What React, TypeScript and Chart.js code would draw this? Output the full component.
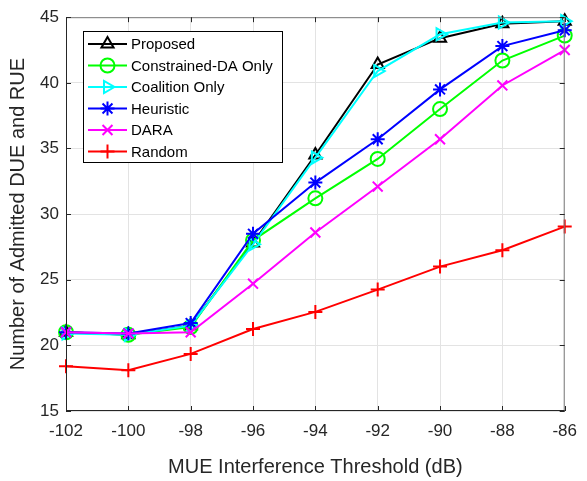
import { useEffect, useRef } from "react";
import { Chart, registerables } from "chart.js";
import { drawPoint } from "chart.js/helpers";

Chart.register(...registerables);

const thresholds = [-102, -100, -98, -96, -94, -92, -90, -88, -86];
const proposed = [21.0, 20.8, 21.5, 27.8, 34.5, 41.4, 43.4, 44.5, 44.7];
const constrainedDA = [21.0, 20.8, 21.4, 28.0, 31.2, 34.2, 38.0, 41.7, 43.6];
const coalitionOnly = [20.9, 20.8, 21.5, 27.7, 34.3, 40.9, 43.7, 44.6, 44.7];
const heuristic = [21.0, 20.9, 21.7, 28.5, 32.4, 35.7, 39.5, 42.8, 44.0];
const dara = [21.0, 20.9, 21.0, 24.7, 28.6, 32.1, 35.7, 39.8, 42.5];
const randomAlloc = [18.4, 18.1, 19.35, 21.25, 22.55, 24.25, 26.0, 27.25, 29.05];

const seriesNames = ["Proposed", "Constrained-DA Only", "Coalition Only", "Heuristic", "DARA", "Random"];
const seriesColors = ["#000000", "#00ff00", "#00ffff", "#0000ff", "#ff00ff", "#ff0000"];
const seriesStyles = ["triangle", "circle", "triangle", "star", "crossRot", "cross"];
const seriesRotations = [0, 0, 90, 0, 0, 0];
const seriesValues = [proposed, constrainedDA, coalitionOnly, heuristic, dara, randomAlloc];

const FONT = "'Liberation Sans', Arial, Helvetica, sans-serif";
const AXIS_COLOR = "#262626";

const frameAndLegend = {
  id: "frameAndLegend",
  afterDatasetsDraw(chart: any) {
    const { ctx, chartArea: a, scales } = chart;
    ctx.save();
    // frame: left/bottom dark, top/right lighter
    ctx.lineWidth = 1;
    ctx.strokeStyle = "#7a7a7a";
    ctx.beginPath();
    ctx.moveTo(a.left, a.top + 0.5);
    ctx.lineTo(a.right - 0.5, a.top + 0.5);
    ctx.lineTo(a.right - 0.5, a.bottom);
    ctx.stroke();
    ctx.strokeStyle = AXIS_COLOR;
    ctx.beginPath();
    ctx.moveTo(a.left + 0.5, a.top);
    ctx.lineTo(a.left + 0.5, a.bottom - 0.5);
    ctx.lineTo(a.right, a.bottom - 0.5);
    ctx.stroke();
    // inward ticks
    const tl = 5;
    ctx.beginPath();
    scales.x.ticks.forEach((t: any) => {
      const x = Math.round(scales.x.getPixelForValue(t.value)) + 0.5;
      ctx.moveTo(x, a.bottom);
      ctx.lineTo(x, a.bottom - tl);
      ctx.moveTo(x, a.top);
      ctx.lineTo(x, a.top + tl);
    });
    scales.y.ticks.forEach((t: any) => {
      const y = Math.round(scales.y.getPixelForValue(t.value)) + 0.5;
      ctx.moveTo(a.left, y);
      ctx.lineTo(a.left + tl, y);
      ctx.moveTo(a.right, y);
      ctx.lineTo(a.right - tl, y);
    });
    ctx.stroke();

    // legend
    const lx = 83, ly = 31, lw = 199, lh = 131;
    ctx.fillStyle = "#ffffff";
    ctx.fillRect(lx, ly, lw, lh);
    ctx.strokeStyle = "#000000";
    ctx.lineWidth = 1;
    ctx.strokeRect(lx + 0.5, ly + 0.5, lw, lh);
    ctx.font = `15px ${FONT}`;
    ctx.textBaseline = "middle";
    seriesNames.forEach((name, i) => {
      const y = ly + 13 + i * 21.5;
      ctx.strokeStyle = seriesColors[i];
      ctx.lineWidth = 2;
      ctx.beginPath();
      ctx.moveTo(88, y);
      ctx.lineTo(127, y);
      ctx.stroke();
      ctx.fillStyle = "rgba(0,0,0,0)";
      drawPoint(ctx, { pointStyle: seriesStyles[i], radius: 7, rotation: seriesRotations[i], borderWidth: 2 } as any, 107.5, y);
      ctx.fillStyle = "#000000";
      ctx.fillText(name, 131, y + 1);
    });
    ctx.restore();
  },
};

export default function App() {
  const ref = useRef<HTMLCanvasElement | null>(null);
  useEffect(() => {
    if (!ref.current) return;
    const chart = new Chart(ref.current, {
      type: "line",
      data: {
        datasets: seriesNames.map((name, i) => ({
          label: name,
          data: thresholds.map((x, j) => ({ x, y: seriesValues[i][j] })),
          borderColor: seriesColors[i],
          backgroundColor: "rgba(0,0,0,0)",
          borderWidth: 2,
          pointStyle: seriesStyles[i] as any,
          pointRotation: seriesRotations[i],
          pointRadius: 7,
          pointBorderWidth: 2,
          pointBorderColor: seriesColors[i],
          pointBackgroundColor: "rgba(0,0,0,0)",
          tension: 0,
          fill: false,
          clip: false as any,
          order: seriesNames.length - i,
        })),
      },
      options: {
        animation: false,
        responsive: true,
        maintainAspectRatio: false,
        layout: { padding: { top: 14, right: 13, left: 0, bottom: 0 } },
        plugins: { legend: { display: false }, tooltip: { enabled: false } },
        scales: {
          x: {
            type: "linear",
            min: -102,
            max: -86,
            afterFit: (s: any) => { s.height = 70; },
            ticks: {
              stepSize: 2,
              padding: 10,
              color: AXIS_COLOR,
              font: { family: FONT, size: 17 },
            },
            grid: { color: "#e3e3e3", drawTicks: false },
            border: { display: false },
            title: {
              display: true,
              text: "MUE Interference Threshold (dB)",
              color: AXIS_COLOR,
              font: { family: FONT, size: 20 },
              padding: { top: 0, bottom: 2 },
            },
          },
          y: {
            type: "linear",
            min: 15,
            max: 45,
            afterFit: (s: any) => { s.width = 66; },
            ticks: {
              stepSize: 5,
              padding: 7,
              color: AXIS_COLOR,
              font: { family: FONT, size: 17 },
            },
            grid: { color: "#e3e3e3", drawTicks: false },
            border: { display: false },
            title: {
              display: true,
              text: "Number of Admitted DUE and RUE",
              color: AXIS_COLOR,
              font: { family: FONT, size: 20 },
              padding: { top: 6, bottom: 0 },
            },
          },
        },
      },
      plugins: [frameAndLegend],
    });
    return () => chart.destroy();
  }, []);
  return (
    <div style={{ position: "absolute", left: 0, top: 0, width: 587, height: 481, background: "#fff" }}>
      <canvas ref={ref} />
    </div>
  );
}
